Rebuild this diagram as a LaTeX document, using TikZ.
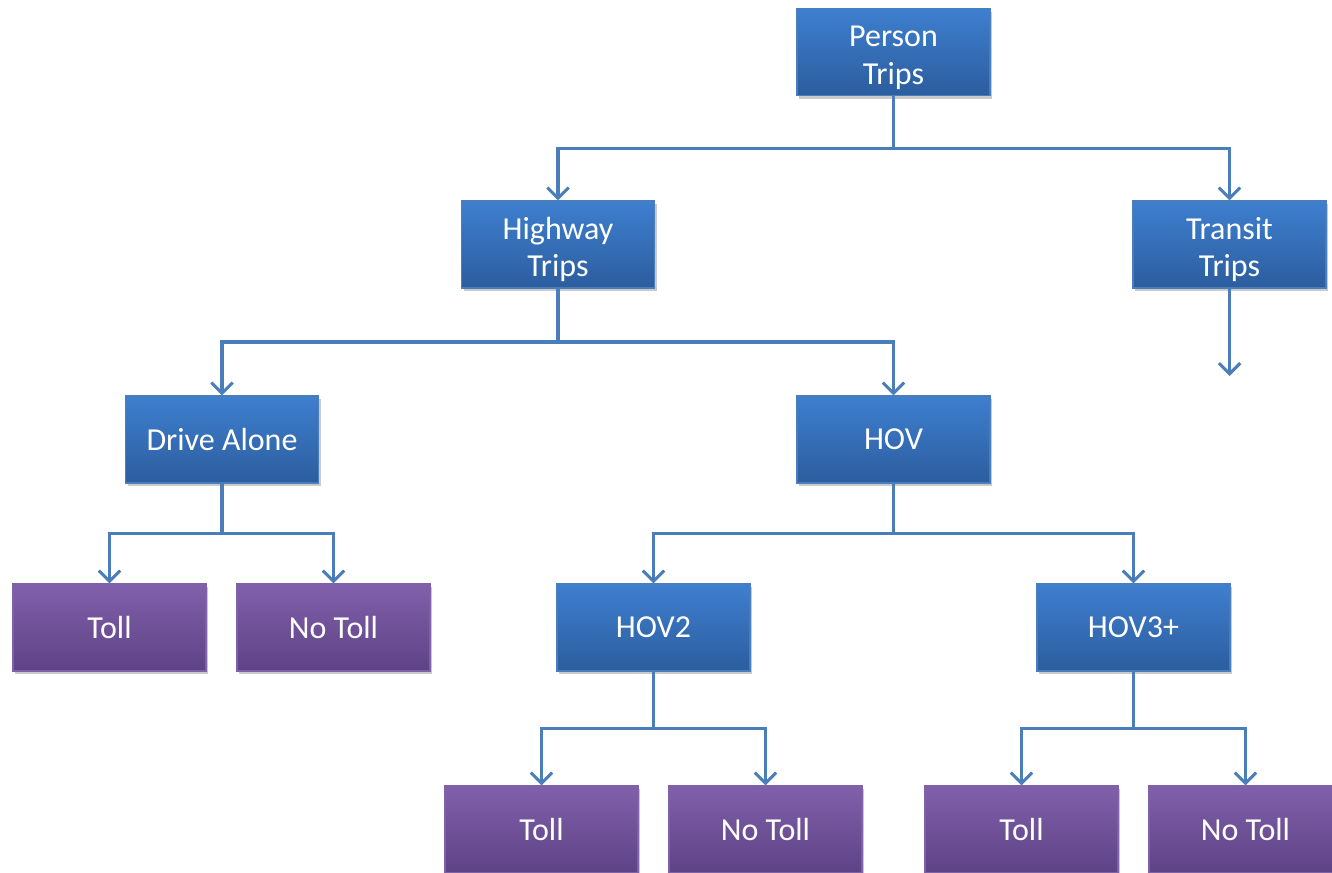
\documentclass[tikz,border=0pt]{standalone}
\usepackage{fontspec}
\setmainfont{Carlito}
\usetikzlibrary{arrows.meta,shadows,calc}
\definecolor{btop}{HTML}{3E7FCF}
\definecolor{bbot}{HTML}{2C5D9E}
\definecolor{bedge}{HTML}{4A7EBB}
\definecolor{ptop}{HTML}{8060AA}
\definecolor{pbot}{HTML}{5E4286}
\definecolor{pedge}{HTML}{7E62A6}
\definecolor{conn}{HTML}{4A7EBB}
\newcommand{\topstrut}{\rule{0pt}{24pt}}
\tikzset{
  box/.style={rectangle, minimum width=144.75pt, minimum height=65.25pt, inner sep=0pt,
    align=center, text=white, font=\fontsize{24}{28}\selectfont,
    drop shadow={shadow xshift=1.5pt, shadow yshift=-2.5pt, opacity=0.35, fill=black!60}},
  bluebox/.style={box, top color=btop, bottom color=bbot, draw=bedge, line width=0.8pt},
  purplebox/.style={box, top color=ptop, bottom color=pbot, draw=pedge, line width=0.8pt},
  link/.style={draw=conn, line width=2.3pt, -{Straight Barb[length=8pt,width=16pt,line width=2.3pt]}}
}
\begin{document}
\begin{tikzpicture}[x=0.75pt,y=-0.75pt]
\useasboundingbox (0,0) rectangle (1332,873);
\begin{scope}
\clip (0,0) rectangle (1332,873);
\node[bluebox] (person) at (893.5,52) {\topstrut Person\\Trips};
\node[bluebox] (highway) at (558,244.5) {\topstrut Highway\\Trips};
\node[bluebox] (transit) at (1229.5,244.5) {\topstrut Transit\\Trips};
\node[bluebox] (drive) at (222,439.5) {Drive Alone};
\node[bluebox] (hov) at (893.5,439.5) {HOV};
\node[purplebox] (dtoll) at (109.5,627.5) {Toll};
\node[purplebox] (dnotoll) at (333.5,627.5) {No Toll};
\node[bluebox] (hov2) at (653.5,627.5) {HOV2};
\node[bluebox] (hov3) at (1133.5,627.5) {HOV3+};
\node[purplebox] (h2toll) at (541.5,829.5) {Toll};
\node[purplebox] (h2notoll) at (765.5,829.5) {No Toll};
\node[purplebox] (h3toll) at (1021.5,829.5) {Toll};
\node[purplebox] (h3notoll) at (1245.5,829.5) {No Toll};
\coordinate (tend) at (1229.5,376);

\foreach \p/\c in {person/highway, person/transit, highway/drive, highway/hov,
  drive/dtoll, drive/dnotoll, hov/hov2, hov/hov3, hov2/h2toll, hov2/h2notoll,
  hov3/h3toll, hov3/h3notoll}{
  \draw[link] (\p.south) |- ($(\p.south)!0.5!(\c.north)$) -| (\c.north);
}
\draw[link] (transit.south) -- (tend);
\end{scope}
\end{tikzpicture}
\end{document}
